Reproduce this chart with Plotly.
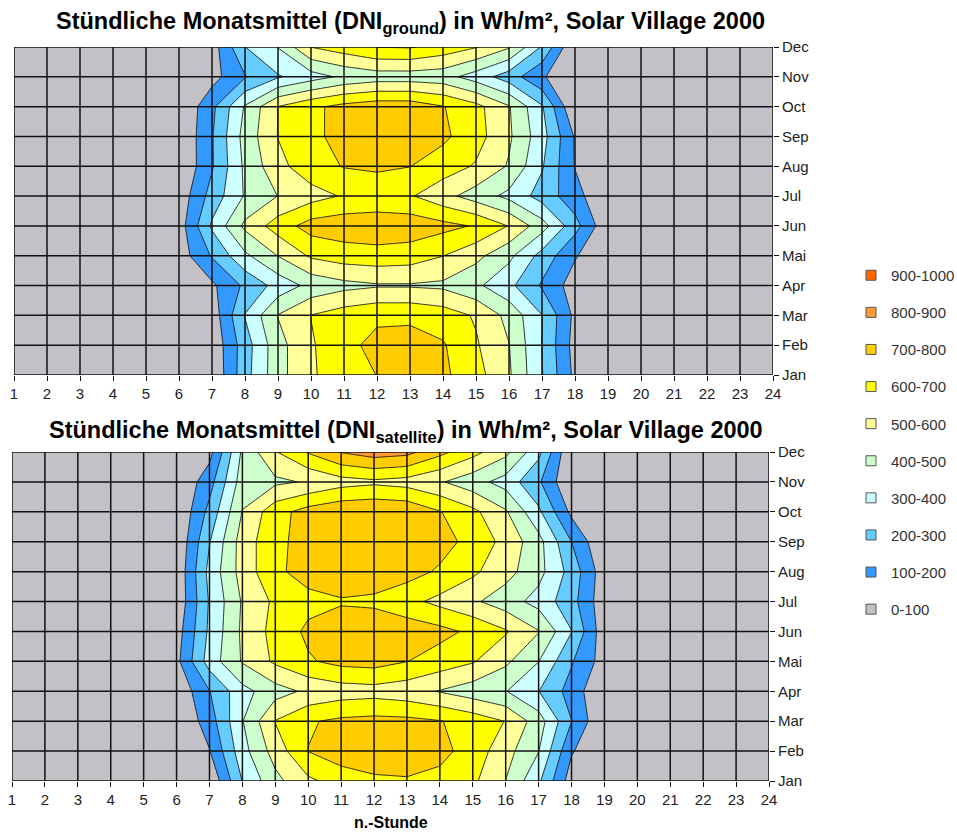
import plotly.graph_objects as go

# ---------------- data ----------------
hours = list(range(1, 25))
hour_labels = [str(h) for h in hours]
months = ["Jan", "Feb", "Mar", "Apr", "Mai", "Jun", "Jul", "Aug", "Sep", "Oct", "Nov", "Dec"]
month_pos = list(range(1, len(months) + 1))

# hourly monthly means (Wh/m²), hours 1..24, DNI ground
ground_jan = [0, 0, 0, 0, 0, 0, 10, 262, 464, 589, 647, 702, 740, 720, 636, 514, 305, 75, 0, 0, 0, 0, 0, 0]
ground_feb = [0, 0, 0, 0, 0, 0, 23, 253, 464, 589, 670, 730, 740, 710, 611, 503, 298, 60, 0, 0, 0, 0, 0, 0]
ground_mar = [0, 0, 0, 0, 0, 0, 40, 305, 504, 602, 650, 680, 680, 650, 589, 469, 302, 75, 0, 0, 0, 0, 0, 0]
ground_apr = [0, 0, 0, 0, 0, 0, 80, 220, 337, 430, 470, 490, 490, 480, 420, 325, 187, 50, 0, 0, 0, 0, 0, 0]
ground_mai = [0, 0, 0, 0, 0, 46, 209, 380, 503, 615, 650, 660, 650, 602, 529, 425, 264, 110, 0, 0, 0, 0, 0, 0]
ground_jun = [0, 0, 0, 0, 0, 50, 317, 523, 648, 742, 760, 770, 760, 730, 691, 596, 443, 237, 20, 0, 0, 0, 0, 0]
ground_jul = [0, 0, 0, 0, 0, 35, 240, 409, 502, 560, 610, 620, 610, 533, 454, 373, 260, 140, 0, 0, 0, 0, 0, 0]
ground_aug = [0, 0, 0, 0, 0, 0, 190, 420, 570, 660, 705, 720, 702, 650, 590, 490, 310, 95, 0, 0, 0, 0, 0, 0]
ground_sep = [0, 0, 0, 0, 0, 0, 192, 438, 603, 679, 730, 765, 765, 720, 640, 516, 340, 90, 0, 0, 0, 0, 0, 0]
ground_oct = [0, 0, 0, 0, 0, 0, 176, 410, 602, 679, 730, 760, 760, 705, 631, 508, 311, 0, 0, 0, 0, 0, 0, 0]
ground_nov = [0, 0, 0, 0, 0, 0, 62, 193, 290, 357, 420, 450, 450, 440, 353, 250, 114, 0, 0, 0, 0, 0, 0, 0]
ground_dec = [0, 0, 0, 0, 0, 0, 50, 298, 404, 602, 651, 702, 708, 661, 606, 510, 291, 0, 0, 0, 0, 0, 0, 0]

# DNI satellite
sat_jan = [0, 0, 0, 0, 0, 0, 11, 303, 471, 581, 640, 680, 690, 670, 620, 498, 318, 47, 0, 0, 0, 0, 0, 0]
sat_feb = [0, 0, 0, 0, 0, 0, 95, 363, 543, 702, 760, 770, 760, 730, 657, 538, 403, 110, 0, 0, 0, 0, 0, 0]
sat_mar = [0, 0, 0, 0, 0, 0, 150, 395, 604, 690, 720, 730, 725, 705, 658, 597, 449, 202, 0, 0, 0, 0, 0, 0]
sat_apr = [0, 0, 0, 0, 0, 18, 196, 367, 458, 520, 550, 560, 540, 494, 448, 404, 302, 159, 0, 0, 0, 0, 0, 0]
sat_mai = [0, 0, 0, 0, 0, 72, 346, 509, 618, 689, 730, 740, 702, 655, 609, 520, 402, 210, 54, 0, 0, 0, 0, 0]
sat_jun = [0, 0, 0, 0, 0, 53, 320, 518, 635, 720, 760, 770, 760, 730, 680, 610, 505, 303, 35, 0, 0, 0, 0, 0]
sat_jul = [0, 0, 0, 0, 0, 20, 310, 510, 620, 670, 690, 680, 630, 572, 517, 448, 363, 238, 33, 0, 0, 0, 0, 0]
sat_aug = [0, 0, 0, 0, 0, 20, 330, 542, 680, 740, 770, 760, 740, 686, 619, 536, 433, 262, 40, 0, 0, 0, 0, 0]
sat_sep = [0, 0, 0, 0, 0, 10, 295, 546, 674, 740, 770, 780, 770, 740, 666, 570, 435, 200, 0, 0, 0, 0, 0, 0]
sat_oct = [0, 0, 0, 0, 0, 0, 230, 504, 662, 740, 780, 790, 780, 705, 625, 512, 320, 75, 0, 0, 0, 0, 0, 0]
sat_nov = [0, 0, 0, 0, 0, 0, 160, 450, 480, 510, 560, 580, 560, 510, 440, 360, 215, 0, 0, 0, 0, 0, 0, 0]
sat_dec = [0, 0, 0, 0, 0, 0, 65, 418, 593, 709, 805, 850, 830, 729, 633, 528, 328, 0, 0, 0, 0, 0, 0, 0]

ground = [ground_jan, ground_feb, ground_mar, ground_apr, ground_mai, ground_jun,
          ground_jul, ground_aug, ground_sep, ground_oct, ground_nov, ground_dec]
satellite = [sat_jan, sat_feb, sat_mar, sat_apr, sat_mai, sat_jun,
             sat_jul, sat_aug, sat_sep, sat_oct, sat_nov, sat_dec]

band_labels = ["0-100", "100-200", "200-300", "300-400", "400-500",
               "500-600", "600-700", "700-800", "800-900", "900-1000"]
band_colors = ["#C3C1C6", "#3399FF", "#66CCFF", "#CCFFFF", "#CCFFCC",
               "#FFFF99", "#FFFF00", "#FFCC00", "#FF9933", "#FF6600"]

# ---------------- styling ----------------
W, H = 957, 832
FONT = "Liberation Sans, Arial, sans-serif"
TXT = "#222222"

nb = len(band_colors)
colorscale = []
for i, c in enumerate(band_colors):
    colorscale.append([i / nb, c])
    colorscale.append([(i + 1) / nb, c])

contour_cfg = dict(start=100, end=900, size=100, coloring="fill", showlines=True)


def dom_x(a, b):
    return [a / W, b / W]


def dom_y(top, bottom):
    return [1 - bottom / H, 1 - top / H]


fig = go.Figure()
for z, xa, ya in [(ground, "x", "y"), (satellite, "x2", "y2")]:
    fig.add_trace(go.Contour(
        x=hours, y=month_pos, z=z, xaxis=xa, yaxis=ya,
        autocontour=False, contours=contour_cfg, colorscale=colorscale,
        zmin=0, zmax=1000, showscale=False, hoverinfo="skip",
        line=dict(color="#1a1a1a", width=0.9, smoothing=0),
        showlegend=False,
    ))

# legend entries, highest band first
for lab, col in reversed(list(zip(band_labels, band_colors))):
    fig.add_trace(go.Scatter(
        x=[None], y=[None], mode="markers", name=lab, legendgroup=lab,
        marker=dict(symbol="square", size=10, color=col, line=dict(color="#555555", width=1)),
        xaxis="x", yaxis="y",
    ))

axis_common = dict(showgrid=False, zeroline=False, showline=False, ticks="outside",
                   ticklen=5, tickwidth=1.2, tickcolor="#111111",
                   tickfont=dict(family=FONT, size=15, color=TXT))

fig.update_layout(
    autosize=True, margin=dict(l=0, r=0, t=0, b=0, autoexpand=False),
    paper_bgcolor="white", plot_bgcolor="white",
    font=dict(family=FONT, color=TXT),
    xaxis=dict(domain=dom_x(14, 773), range=[hours[0], hours[-1]], anchor="y",
               tickvals=hours, ticktext=hour_labels, **axis_common),
    yaxis=dict(domain=dom_y(47, 375), range=[month_pos[0], month_pos[-1]], anchor="x",
               side="right", tickvals=month_pos, ticktext=months, **axis_common),
    xaxis2=dict(domain=dom_x(12, 769), range=[hours[0], hours[-1]], anchor="y2",
                tickvals=hours, ticktext=hour_labels, **axis_common),
    yaxis2=dict(domain=dom_y(452, 781), range=[month_pos[0], month_pos[-1]], anchor="x2",
                side="right", tickvals=month_pos, ticktext=months, **axis_common),
    legend=dict(x=851 / W, y=1 - 259 / H, xanchor="left", yanchor="top",
                traceorder="grouped", tracegroupgap=14.6,
                font=dict(family=FONT, size=15, color="#333333"),
                bgcolor="rgba(0,0,0,0)", itemwidth=30),
    showlegend=True,
)

# grid lines drawn above the filled contours
shapes = []
for xa, ya in [("x", "y"), ("x2", "y2")]:
    for h in hours:
        shapes.append(dict(type="line", xref=xa, yref=ya, x0=h, x1=h,
                           y0=month_pos[0], y1=month_pos[-1], layer="above",
                           line=dict(color="#111111", width=1.5)))
    for m in month_pos:
        shapes.append(dict(type="line", xref=xa, yref=ya, x0=hours[0], x1=hours[-1],
                           y0=m, y1=m, layer="above",
                           line=dict(color="#111111", width=1.5)))
fig.update_layout(shapes=shapes)

fig.add_annotation(text="<b>Stündliche Monatsmittel (DNI<sub>ground</sub>) in Wh/m², Solar Village 2000</b>",
                   x=410 / W, y=1 - 23 / H, xref="paper", yref="paper",
                   xanchor="center", yanchor="middle", showarrow=False,
                   font=dict(family=FONT, size=23.5, color="#000000"))
fig.add_annotation(text="<b>Stündliche Monatsmittel (DNI<sub>satellite</sub>) in Wh/m², Solar Village 2000</b>",
                   x=406 / W, y=1 - 431 / H, xref="paper", yref="paper",
                   xanchor="center", yanchor="middle", showarrow=False,
                   font=dict(family=FONT, size=23.5, color="#000000"))
fig.add_annotation(text="<b>n.-Stunde</b>",
                   x=391 / W, y=1 - 822 / H, xref="paper", yref="paper",
                   xanchor="center", yanchor="middle", showarrow=False,
                   font=dict(family=FONT, size=16, color="#000000"))

# the plot div is pinned to the window's top-left corner at exactly 957x832
fig.write_html("out.html",
               default_width="957px",
               default_height="832px; position:absolute; left:0px; top:0px")
